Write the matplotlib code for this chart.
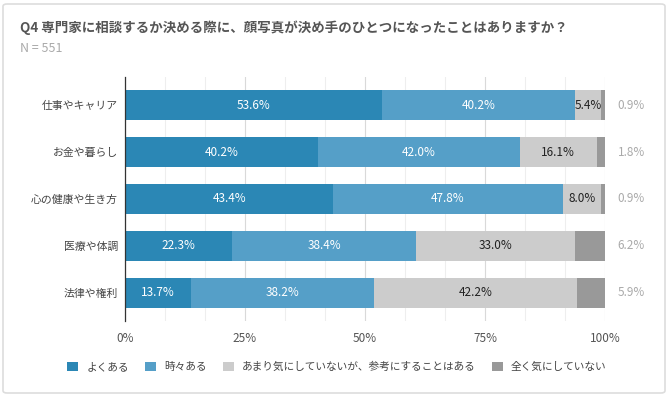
import matplotlib
matplotlib.use("Agg")
import matplotlib.pyplot as plt
from matplotlib.patches import FancyBboxPatch, Patch
import numpy as np

plt.rcParams['font.family'] = ['Noto Sans CJK JP', 'DejaVu Sans']

categories = ["仕事やキャリア", "お金や暮らし", "心の健康や生き方", "医療や体調", "法律や権利"]
series_names = ["よくある", "時々ある", "あまり気にしていないが、参考にすることはある", "全く気にしていない"]
often = [53.6, 40.2, 43.4, 22.3, 13.7]
sometimes = [40.2, 42.0, 47.8, 38.4, 38.2]
reference = [5.4, 16.1, 8.0, 33.0, 42.2]
never = [0.9, 1.8, 0.9, 6.2, 5.9]
xticks = [0, 25, 50, 75, 100]
xticklabels = ["0%", "25%", "50%", "75%", "100%"]
colors = ["#2b87b5", "#559fc8", "#cccccc", "#999999"]
text_colors = ["white", "white", "#222222", None]

W, H = 669, 396
fig = plt.figure(figsize=(W / 100, H / 100), dpi=100)

# frame
fig.patches.append(FancyBboxPatch((3 / W, 3 / H), (W - 7) / W, (H - 7) / H,
                                  boxstyle="round,pad=0,rounding_size=0.006",
                                  transform=fig.transFigure, facecolor="white",
                                  edgecolor="#dddddd", linewidth=1.2, zorder=-10))

ax = fig.add_axes([125 / W, 1 - 321 / H, 480 / W, (321 - 77) / H])
ax.set_facecolor("none")

y = np.arange(len(categories))
data = [often, sometimes, reference, never]
left = np.zeros(len(categories))
for vals, col, tc in zip(data, colors, text_colors):
    vals = np.array(vals)
    ax.barh(y, vals, left=left, height=0.64, color=col, zorder=3)
    if tc is not None:
        for yi, (l, v) in enumerate(zip(left, vals)):
            ax.text(l + v / 2, yi, f"{v:.1f}%", ha="center", va="center",
                    color=tc, fontsize=8.5, zorder=4)
    left = left + vals

for yi, v in enumerate(never):
    ax.text(105.5, yi, f"{v:.1f}%", ha="center", va="center", color="#aaaaaa",
            fontsize=8.5, clip_on=False)

ax.set_xlim(0, 100)
ax.set_ylim(len(categories) - 0.4, -0.6)
ax.set_yticks(y)
ax.set_yticklabels(categories, fontsize=7.8, color="#444444")
ax.set_xticks(xticks)
ax.set_xticklabels(xticklabels, fontsize=8.5, color="#555555")
ax.set_xticks(np.linspace(0, 100, 13), minor=True)
ax.tick_params(axis="x", length=0, pad=8)
ax.tick_params(axis="y", length=0, pad=5)
ax.tick_params(axis="x", which="minor", length=0)
ax.grid(axis="x", which="minor", color="#eeeeee", linewidth=0.8, zorder=0)
ax.grid(axis="x", which="major", color="#d9d9d9", linewidth=0.8, zorder=0)
for s in ["top", "right", "bottom"]:
    ax.spines[s].set_visible(False)
ax.spines["left"].set_color("#333333")
ax.spines["left"].set_linewidth(0.9)
ax.spines["left"].set_zorder(5)

handles = [Patch(facecolor=c, edgecolor="none") for c in colors]
fig.legend(handles, series_names, loc="center", bbox_to_anchor=(337 / W, 1 - 367 / H),
           ncol=4, frameon=False, fontsize=7.7, handlelength=1.0, handleheight=1.0,
           columnspacing=1.5, handletextpad=0.8, labelcolor="#444444")

fig.text(20 / W, 1 - 28 / H, "Q4 専門家に相談するか決める際に、顔写真が決め手のひとつになったことはありますか？",
         fontsize=9.7, fontweight="bold", color="#555555", va="center", ha="left")
fig.text(20 / W, 1 - 48 / H, "N = 551", fontsize=9, color="#aaaaaa", va="center", ha="left")

fig.savefig("out.png", dpi=100)
